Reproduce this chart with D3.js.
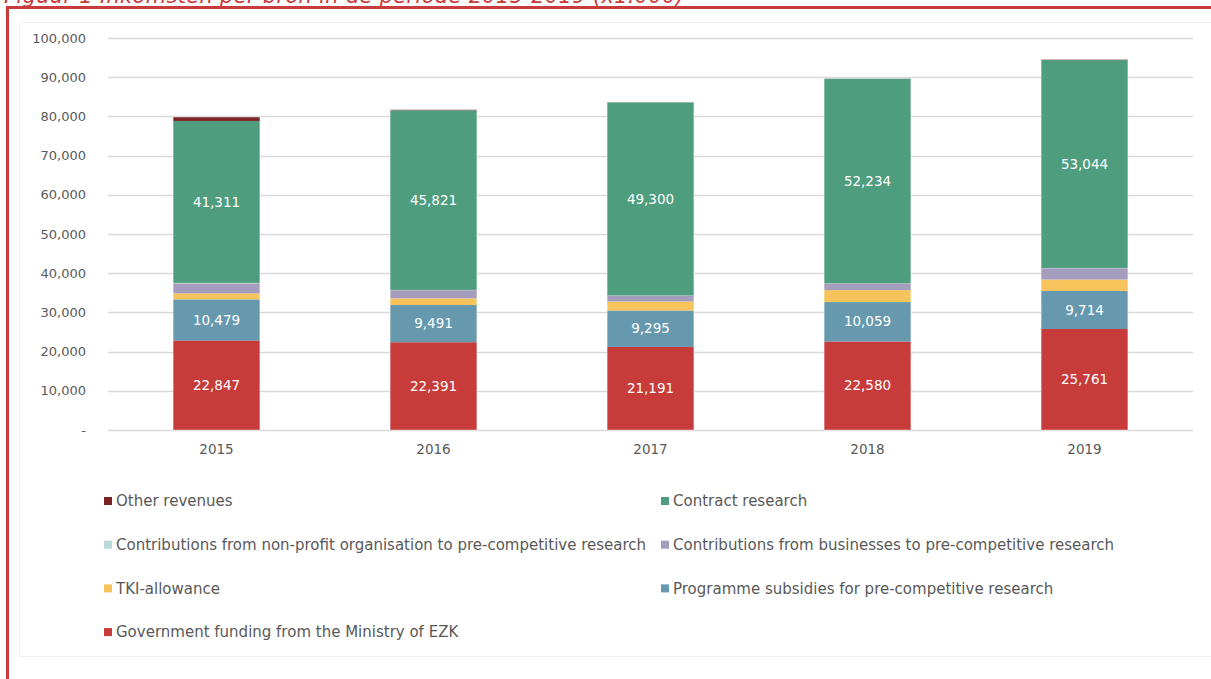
<!DOCTYPE html>
<html>
<head>
<meta charset="utf-8">
<script src="https://cdn.jsdelivr.net/npm/d3@7"></script>
<style>
  body { margin: 0; background: #fff; }
  svg { display: block; }
  text { font-family: "DejaVu Sans", "Lato", sans-serif; }
</style>
</head>
<body>
<div id="chart"></div>
<script>
// data (x1.000 euro)
var years = ["2015", "2016", "2017", "2018", "2019"];
var seriesNames = [
  "Government funding from the Ministry of EZK",
  "Programme subsidies for pre-competitive research",
  "TKI-allowance",
  "Contributions from businesses to pre-competitive research",
  "Contributions from non-profit organisation to pre-competitive research",
  "Contract research",
  "Other revenues"
];
var government = [22847, 22391, 21191, 22580, 25761];
var programme = [10479, 9491, 9295, 10059, 9714];
var tki = [1530, 1700, 2300, 3050, 2900];
var businesses = [2550, 2100, 1500, 1700, 2900];
var nonProfit = [120, 60, 40, 40, 60];
var contract = [41311, 45821, 49300, 52234, 53044];
var other = [1000, 150, 20, 20, 150];
var yTicks = [0, 10000, 20000, 30000, 40000, 50000, 60000, 70000, 80000, 90000, 100000];
var labelled = ["Government funding from the Ministry of EZK", "Programme subsidies for pre-competitive research", "Contract research"];

var colors = ["#C73B3A", "#6699AE", "#F6C45A", "#A59DBE", "#B6DADB", "#4E9D7E", "#7A2224"];
var values = [government, programme, tki, businesses, nonProfit, contract, other];

// legend order as in the picture (two columns)
var legendOrder = [6, 5, 4, 3, 2, 1, 0];

var W = 1211, H = 679;
var margin = {top: 38, right: 18, bottom: 249, left: 108},
    width = W - margin.left - margin.right,
    height = H - margin.top - margin.bottom;

var svg = d3.select("#chart").append("svg")
  .attr("width", W)
  .attr("height", H);

// figure title, cut by the top edge like in the original
svg.append("text")
  .attr("x", 4)
  .attr("y", 3)
  .attr("fill", "#C73B3A")
  .attr("font-style", "italic")
  .attr("font-size", 21)
  .attr("textLength", 680)
  .text("Figuur 1 Inkomsten per bron in de periode 2015-2019  (x1.000)");

svg.append("rect")
  .attr("x", 19.5).attr("y", 22.5)
  .attr("width", W).attr("height", 634)
  .attr("fill", "none")
  .attr("stroke", "#f0f0f0");

svg.append("path")
  .attr("d", "M7.5," + H + "V7.5H" + W)
  .attr("fill", "none")
  .attr("stroke", "#C73B3A")
  .attr("stroke-width", 3);

var g = svg.append("g")
  .attr("transform", "translate(" + margin.left + "," + margin.top + ")");

var table = years.map(function(y, i) {
  var row = {year: y};
  seriesNames.forEach(function(s, k) { row[s] = values[k][i]; });
  return row;
});

var x = d3.scaleBand()
  .domain(years)
  .range([0, width])
  .paddingInner(0.6)
  .paddingOuter(0.3);

var y = d3.scaleLinear()
  .domain([0, 100000])
  .range([height, 0]);

// gridlines
g.append("g")
  .selectAll("line")
  .data(yTicks)
  .enter().append("line")
    .attr("x1", 0).attr("x2", width)
    .attr("y1", function(d) { return Math.round(y(d)) + 0.5; })
    .attr("y2", function(d) { return Math.round(y(d)) + 0.5; })
    .attr("stroke", "#d9d9d9")
    .attr("stroke-width", 1.3);

// Y axis
var yAxis = g.append("g")
  .attr("transform", "translate(-19,0)")
  .call(d3.axisLeft(y).tickValues(yTicks).tickSize(0)
    .tickFormat(function(d) { return d === 0 ? "-" : d3.format(",")(d); }));
yAxis.select(".domain").remove();
yAxis.selectAll("text")
  .attr("fill", "#595959")
  .attr("font-size", 13);

// X axis
var xAxis = g.append("g")
  .attr("transform", "translate(0," + height + ")")
  .call(d3.axisBottom(x).tickSize(0).tickPadding(14));
xAxis.select(".domain").remove();
xAxis.selectAll("text")
  .attr("fill", "#595959")
  .attr("font-size", 13.5);

// stacked bars
var stack = d3.stack().keys(seriesNames);
var layers = stack(table);

var layer = g.selectAll(".layer")
  .data(layers)
  .enter().append("g")
    .attr("class", "layer")
    .attr("fill", function(d, i) { return colors[i]; });

layer.selectAll("rect")
  .data(function(d) { return d; })
  .enter().append("rect")
    .attr("x", function(d) { return x(d.data.year); })
    .attr("y", function(d) { return y(d[1]); })
    .attr("width", x.bandwidth())
    .attr("height", function(d) { return y(d[0]) - y(d[1]); });

// thin light edge round each bar
g.selectAll(".edge")
  .data(table)
  .enter().append("rect")
    .attr("class", "edge")
    .attr("x", function(d) { return x(d.year); })
    .attr("y", function(d) { return y(d3.sum(seriesNames, function(s) { return d[s]; })); })
    .attr("width", x.bandwidth())
    .attr("height", function(d) { return height - y(d3.sum(seriesNames, function(s) { return d[s]; })); })
    .attr("fill", "none")
    .attr("stroke", "#ffffff")
    .attr("stroke-opacity", 0.5)
    .attr("stroke-width", 0.8);

// data labels
layers.forEach(function(l) {
  if (labelled.indexOf(l.key) < 0) return;
  g.append("g").selectAll("text")
    .data(l)
    .enter().append("text")
      .attr("x", function(d) { return x(d.data.year) + x.bandwidth() / 2; })
      .attr("y", function(d) { return (y(d[0]) + y(d[1])) / 2; })
      .attr("dy", "0.35em")
      .attr("text-anchor", "middle")
      .attr("fill", "#ffffff")
      .attr("font-size", 13.5)
      .text(function(d) { return d3.format(",")(d[1] - d[0]); });
});

// legend
var legend = svg.append("g");
legendOrder.forEach(function(k, i) {
  var col = i % 2, row = Math.floor(i / 2);
  var lx = col === 0 ? 104 : 661;
  var ly = 501 + row * 43.7;
  legend.append("rect")
    .attr("x", lx).attr("y", ly - 4)
    .attr("width", 8).attr("height", 8)
    .attr("fill", colors[k]);
  legend.append("text")
    .attr("x", lx + 12)
    .attr("y", ly)
    .attr("dy", "0.35em")
    .attr("fill", "#595959")
    .attr("font-size", 15)
    .text(seriesNames[k]);
});
</script>
</body>
</html>
